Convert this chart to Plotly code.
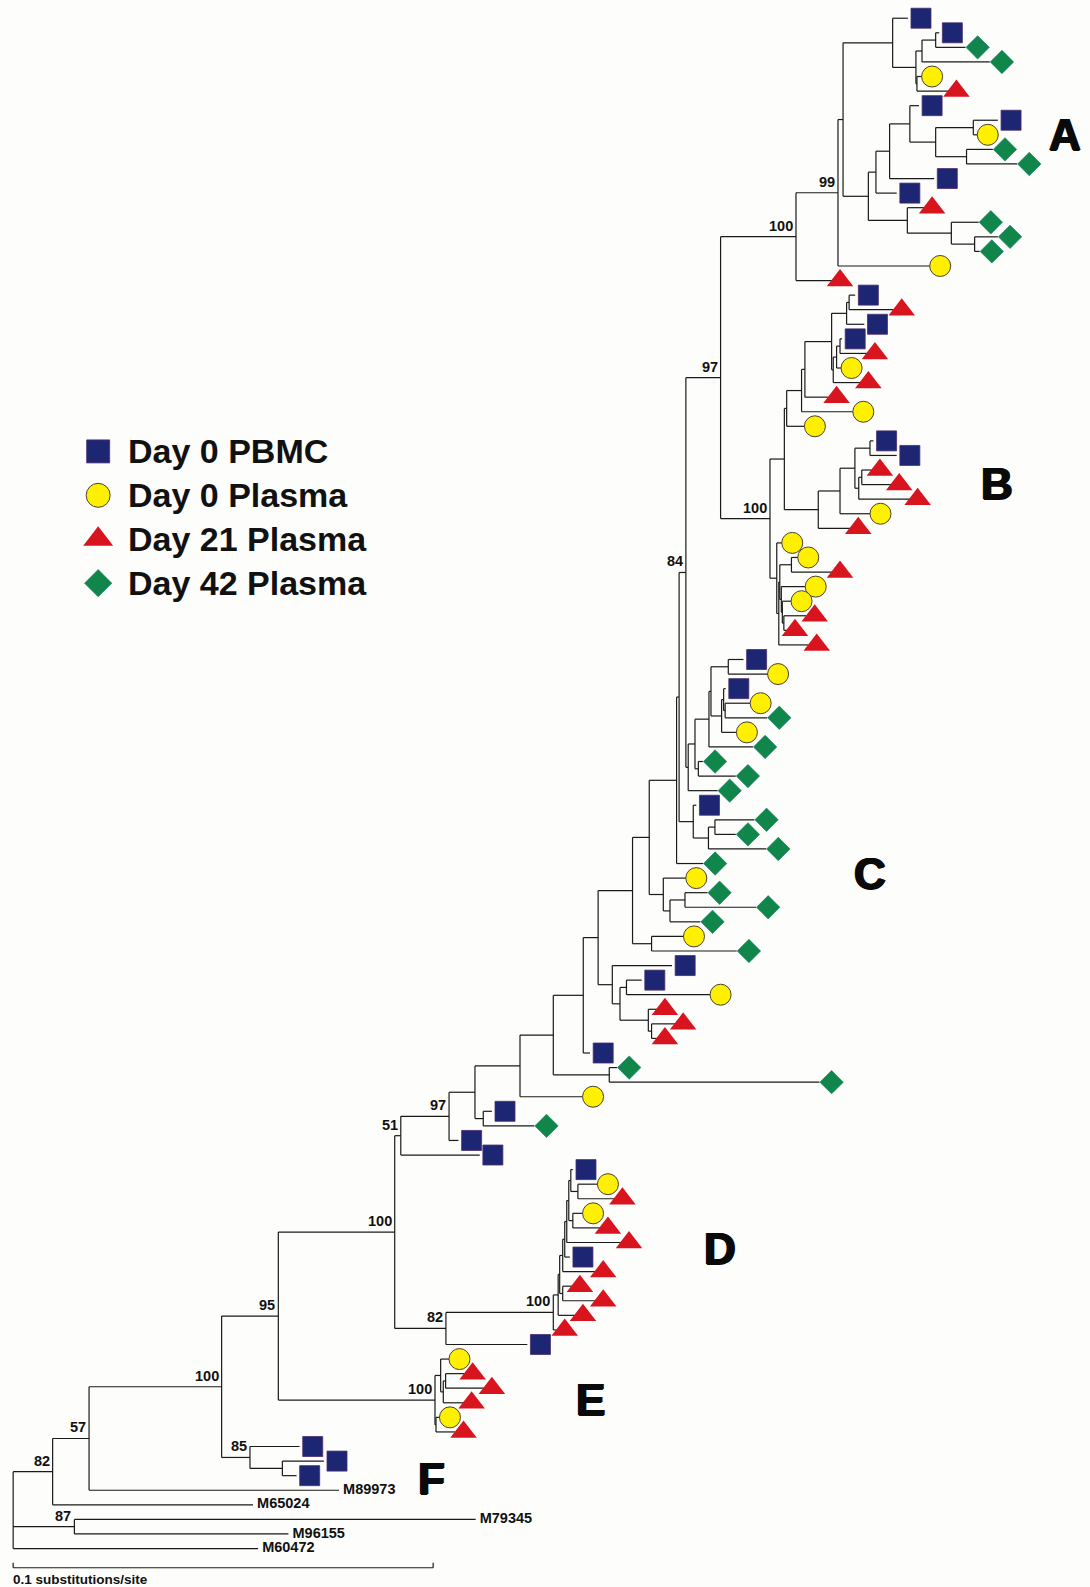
import plotly.graph_objects as go

# ---------------------------------------------------------------
# Tree data.  x = horizontal position of a node / branch tip in the
# drawing's own units (root at 13, 0.1 substitutions/site = 415 units).
# Leaves are listed top to bottom; their vertical slot is their index.
# ---------------------------------------------------------------
node_name = [
    "root", "n82", "n87", "n57", "n100L", "n85", "Fsub", "n95",
    "E100", "E1", "E2", "E3", "E4",
    "n100u", "n82D", "D100", "D1", "D2", "D3", "D8", "D4", "D5", "D6", "D7", "D9", "D10",
    "n51", "n97L", "N1", "N2", "N513", "C1", "C1a", "C1b", "C2", "C4", "C5", "C6", "C7", "C8",
    "C3", "C9", "J", "J2", "J3", "J4", "K2", "K", "G8", "G9", "G10",
    "n84", "G7", "G5", "G6", "G4", "G4b", "G1", "G2", "G2a", "G3",
    "n97", "B100", "B1", "Bx", "B1a", "B1c", "B1d", "BE1", "BE2", "L1", "L2", "L3",
    "B1b", "Bb1", "Bb2", "Bb3", "Bb4", "Bb5", "B2", "B3", "B4", "B5", "B6", "B7", "B8",
    "A100", "P", "Q", "R", "T", "U", "W", "V", "S", "X", "X2", "X3", "X4", "X5", "X6",
    "Y", "Y2", "Y3",
]
node_parent = [
    None, "root", "root", "n82", "n57", "n100L", "n85", "n100L",
    "n95", "E100", "E1", "E2", "E100",
    "n95", "n100u", "n82D", "D100", "D1", "D2", "D2", "D3", "D4", "D5", "D6", "D6", "D7",
    "n100u", "n51", "n97L", "N1", "N1", "N513", "C1", "C1", "C1a", "C2", "C4", "C5", "C5", "C7",
    "C2", "C3", "C3", "J", "J2", "J3", "J", "K2", "K", "G8", "G9",
    "K", "n84", "G7", "G5", "G5", "G4", "G4b", "G4b", "G2", "G2a",
    "n84", "n97", "B100", "B1", "Bx", "B1a", "B1c", "B1d", "BE1", "B1d", "L1", "L2",
    "B1", "B1b", "Bb1", "Bb2", "Bb2", "Bb4", "B100", "B2", "B3", "B4", "B4", "B6", "B7",
    "n97", "A100", "P", "Q", "R", "T", "U", "T", "Q", "S", "X", "X2", "X3", "X4", "X4",
    "S", "Y", "Y2",
]
node_x = [
    13, 52, 73.5, 88, 219, 247, 279, 275,
    429.8, 435.4, 438, 440.3, 430.8,
    390, 440.6, 546.7, 551.5, 553, 556, 556, 558, 560, 562, 564, 566, 571,
    396, 443.7, 469.3, 477.5, 513.8, 546.7, 576.3, 602, 591, 605, 612.6, 619, 640.6, 643.8,
    625, 643.8, 641.5, 655.4, 662, 676.8, 668.5, 671, 685, 700, 706.4,
    677.7, 680, 686.7, 690, 700.5, 702.5, 719.6, 713, 715, 716.5,
    712, 760.8, 775, 777.3, 792, 795.3, 821.7, 836.5, 839, 823.3, 826.6, 830,
    808.5, 830, 844.7, 859.6, 848.5, 851.5, 767.5, 769.5, 770.5, 782, 772, 773, 774.5,
    786.5, 828, 833, 882, 905, 911, 924.5, 906, 858, 865.5, 879, 899, 924.5, 961.7, 955,
    896.5, 940, 963,
]
support = {
    "n82": "82", "n87": "87", "n57": "57", "n100L": "100", "n85": "85", "n95": "95",
    "E100": "100", "n100u": "100", "n82D": "82", "D100": "100", "n51": "51",
    "n97L": "97", "n84": "84", "n97": "97", "B100": "100", "A100": "100", "P": "99",
}

leaf_parent = [
    # A
    "R", "W", "W", "U", "V", "V", "X3", "X5", "X5", "X6", "X6", "X2", "X", "Y", "Y2",
    "Y3", "Y3", "P", "A100",
    # B
    "BE2", "BE2", "BE1", "L3", "L3", "L2", "L1", "B1c", "B1a", "Bx",
    "Bb3", "Bb3", "Bb5", "Bb5", "Bb4", "Bb1", "B1b",
    "B2", "B5", "B5", "B6", "B7", "B8", "B8", "B3",
    # C
    "G1", "G1", "G2a", "G3", "G3", "G2", "G4", "G6", "G6", "G7",
    "G8", "G10", "G10", "G9", "K2",
    "J2", "J4", "J4", "J3", "C9", "C9", "C4", "C6", "C6", "C7", "C8", "C8", "C1a",
    "C1b", "C1b", "N513", "N2", "N2", "n97L", "n51",
    # D
    "D7", "D10", "D10", "D9", "D9", "D5", "D4", "D3", "D8", "D8", "D1", "D100", "n82D",
    # E
    "E1", "E3", "E3", "E2", "E4", "E4",
    # F and reference strains
    "n85", "Fsub", "Fsub", "n57", "n82", "n87", "n87", "root",
]
# P = Day 0 PBMC, C = Day 0 Plasma, T = Day 21 Plasma, D = Day 42 Plasma, R = reference
leaf_kind = (
    "P P D D C T P P C D D P P T D D D C T "
    "P T P P T C T T C C P P T T T C T C C T C C T T T "
    "P C P C D C D D D D P D D D D C D D D C D P P C T T T P D D C P D P P "
    "P C T C T T P T T T T T P "
    "C T T T C T "
    "P P P R R R R R"
).split()
leaf_x = [
    897, 928, 954, 978, 911, 937, 908, 986, 966, 981, 1005, 923, 886, 913, 967,
    986, 968, 919, 822,
    845, 883, 854, 832, 856.5, 831.4, 850, 818.6, 843, 795.2,
    863, 886, 861.4, 880.5, 898.7, 860, 840,
    772.8, 788.6, 822, 796, 782, 797, 777.5, 799,
    734.6, 758.8, 717, 741.6, 758, 728, 744, 694.5, 727, 709,
    688, 745.4, 727, 757, 694.6,
    678, 699, 747, 692, 675.7, 728, 664, 634, 702, 649, 667, 649, 583,
    609.7, 809.7, 576, 486, 528, 453, 474,
    566, 590.7, 607, 576, 592.7, 613.5, 563, 588, 565, 588, 568, 550, 521,
    444, 459, 478, 458, 434.6, 450,
    296, 320, 293, 335, 250, 470, 285, 255,
]
ref_names = ["M89973", "M65024", "M79345", "M96155", "M60472"]

legend_kinds = ["P", "C", "T", "D"]
legend_labels = ["Day 0 PBMC", "Day 0 Plasma", "Day 21 Plasma", "Day 42 Plasma"]

clade_names = ["A", "B", "C", "D", "E", "F"]
clade_x = [1052, 985, 860, 711, 583, 426]
clade_y = [133, 478, 863, 1234, 1383, 1461]

scale_subs = 0.1          # length of the scale bar
units_per_sub = 4150      # drawing units per substitution/site

# ---------------------------------------------------------------
FONT = "Liberation Sans, Arial, Helvetica, sans-serif"
LEAF_Y0, LEAF_DY = 18, 14.4
DRAW_W, DRAW_H = 1077, 1568     # size of the drawing grid
PAGE_W, PAGE_H = 1090, 1587     # browser window

marker_style = {
    "P": dict(symbol="square", size=20, color="#1d2672", line=dict(width=0.8, color="#4a2d70")),
    "C": dict(symbol="circle", size=21, color="#fff000", line=dict(width=1, color="#4a4030")),
    "T": dict(symbol="triangle-up", size=23, color="#d8141f", line=dict(width=0)),
    "D": dict(symbol="diamond", size=18, color="#11864a", line=dict(width=0.6, color="#0f7a6a")),
}
tip_gap = {"P": 13, "C": 10, "T": 8, "D": 12}

# ---- compute vertical positions ----
leaf_y = [LEAF_Y0 + i * LEAF_DY for i in range(len(leaf_x))]
nx = dict(zip(node_name, node_x))
kids = {n: [] for n in node_name}
for n, p in zip(node_name, node_parent):
    if p:
        kids[p].append(("n", n))
for i, p in enumerate(leaf_parent):
    kids[p].append(("l", i))

ny, span = {}, {}


def get_y(n):
    if n not in ny:
        ys = [leaf_y[k] if t == "l" else get_y(k) for t, k in kids[n]]
        span[n] = (min(ys), max(ys))
        ny[n] = (min(ys) + max(ys)) / 2
    return ny[n]


for n in node_name:
    get_y(n)

# ---- branches ----
lx, ly = [], []


def seg(x0, y0, x1, y1):
    lx.extend([x0, x1, None])
    ly.extend([y0, y1, None])


for n, p in zip(node_name, node_parent):
    seg(nx[n], span[n][0], nx[n], span[n][1])
    if p:
        seg(nx[p], ny[n], nx[n], ny[n])
for i, p in enumerate(leaf_parent):
    seg(nx[p], leaf_y[i], leaf_x[i], leaf_y[i])

# scale bar
bar_x0 = nx["root"]
bar_x1 = bar_x0 + scale_subs * units_per_sub
bar_y = 1549
seg(bar_x0, bar_y, bar_x1, bar_y)
seg(bar_x0, bar_y - 5, bar_x0, bar_y)
seg(bar_x1, bar_y - 5, bar_x1, bar_y)

fig = go.Figure()
fig.add_trace(go.Scatter(x=lx, y=ly, mode="lines",
                         line=dict(color="#1a1a1a", width=1.2),
                         hoverinfo="skip", showlegend=False))

# ---- sample markers ----
for k in ["P", "C", "T", "D"]:
    idx = [i for i, kk in enumerate(leaf_kind) if kk == k]
    fig.add_trace(go.Scatter(
        x=[leaf_x[i] + tip_gap[k] for i in idx],
        y=[leaf_y[i] for i in idx],
        mode="markers", marker=marker_style[k], showlegend=False))

# ---- reference strain labels ----
ref_idx = [i for i, kk in enumerate(leaf_kind) if kk == "R"]
fig.add_trace(go.Scatter(
    x=[leaf_x[i] + 4 for i in ref_idx], y=[leaf_y[i] for i in ref_idx],
    mode="text", text=[f"<b>{s}</b>" for s in ref_names],
    textposition="middle right",
    textfont=dict(family=FONT, size=14.5, color="#111"),
    showlegend=False))

# ---- legend (drawn by hand so the symbols can be large) ----
leg_x, leg_y0, leg_dy = 97, 446, 43.4
for j, (k, lab) in enumerate(zip(legend_kinds, legend_labels)):
    st = dict(marker_style[k])
    st["size"] = st["size"] + 3
    fig.add_trace(go.Scatter(x=[leg_x], y=[leg_y0 + j * leg_dy], mode="markers",
                             marker=st, showlegend=False))
    fig.add_annotation(x=leg_x + 27, y=leg_y0 + j * leg_dy, text=f"<b>{lab}</b>",
                       xanchor="left", yanchor="middle", showarrow=False,
                       font=dict(family=FONT, size=34, color="#111"))

annotations = []
# bootstrap values
for n, val in support.items():
    annotations.append(dict(x=nx[n] - 1, y=ny[n] - 1, text=f"<b>{val}</b>",
                            xanchor="right", yanchor="bottom", showarrow=False,
                            font=dict(family=FONT, size=14.5, color="#111")))
# clade letters
for name, cx, cy in zip(clade_names, clade_x, clade_y):
    annotations.append(dict(x=cx, y=cy, text=f"<b>{name}</b>", showarrow=False,
                            xanchor="center", yanchor="middle",
                            font=dict(family=FONT, size=44, color="#0a0a0a",
                                      shadow="1px 0 0 #0a0a0a, -1px 0 0 #0a0a0a, 0 1px 0 #0a0a0a")))
# scale bar caption
annotations.append(dict(x=bar_x0 - 2, y=bar_y + 2, text="<b>0.1 substitutions/site</b>",
                        xanchor="left", yanchor="top", showarrow=False,
                        font=dict(family=FONT, size=13.5, color="#111")))
for a in annotations:
    fig.add_annotation(**a)

fig.update_layout(
    width=PAGE_W, height=PAGE_H,
    margin=dict(l=0, r=0, t=0, b=0),
    paper_bgcolor="#fdfdfb", plot_bgcolor="#fdfdfb",
    xaxis=dict(range=[0, DRAW_W], visible=False),
    yaxis=dict(range=[DRAW_H, 0], visible=False),
    showlegend=False,
)

# drop the page's default margin so the figure fills the window exactly
fig.write_html(
    "out.html",
    config={"displayModeBar": False},
    post_script="document.body.style.margin='0';"
                "document.documentElement.style.overflow='hidden';",
)
